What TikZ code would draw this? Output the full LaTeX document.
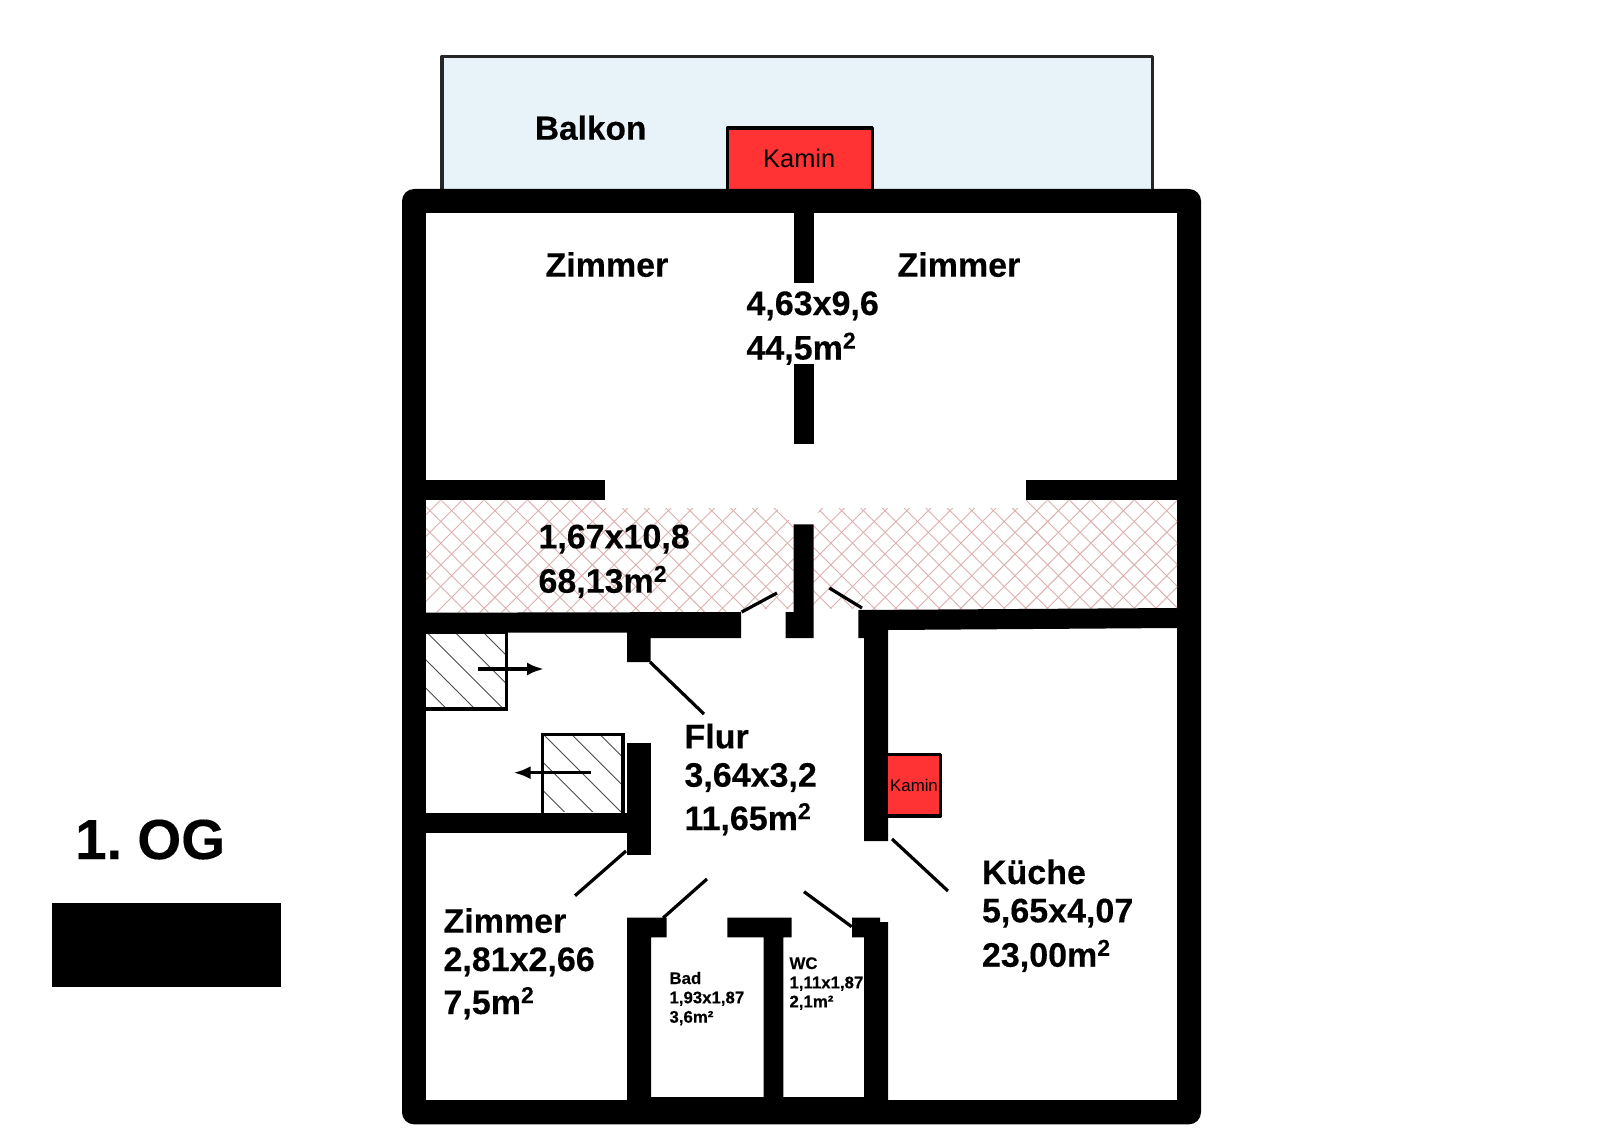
\documentclass[tikz,border=0pt]{standalone}
\usepackage{fontspec}
\setmainfont{Liberation Sans}[BoldFeatures={FakeBold=0.25}]
\usetikzlibrary{arrows.meta}
\definecolor{balk}{HTML}{E8F3F9}
\definecolor{kam}{HTML}{FF3333}
\definecolor{hatchred}{HTML}{DDB0B0}
\newcommand{\msq}{\raisebox{0.32em}{\fontsize{23}{23}\selectfont 2}}
\tikzset{
  wall/.style={fill=black,draw=none},
  doorline/.style={draw=black,line width=3.2pt},
  closet/.style={draw=black,line width=3.4pt},
  kamin/.style={fill=kam,draw=black,line width=3.4pt,line join=round},
  boxhatch/.style={draw=black!70,line width=0.9pt},
  roomhatch/.style={draw=hatchred,line width=0.9pt},
  movearrow/.style={draw=black,line width=3.4pt,-{Latex[length=17pt,width=13pt]}},
  big/.style={anchor=base west,inner sep=0pt,outer sep=0pt,font=\fontsize{34}{40}\selectfont\bfseries},
  small/.style={anchor=base west,inner sep=0pt,outer sep=0pt,font=\fontsize{16.8}{20}\selectfont\bfseries},
}
\begin{document}
\begin{tikzpicture}[x=1pt,y=-1pt]
\useasboundingbox (0,0) rectangle (1604,1142);
\fill[white] (0,0) rectangle (1604,1142);
% balcony
\draw[fill=balk,draw=black!85,line width=3.2pt,line join=round] (442,195) -- (442,56.5) -- (1152.7,56.5) -- (1152.7,195);
\draw[kamin] (727.2,195) -- (727.2,128) -- (872.3,128) -- (872.3,195);
% outer frame
\fill[black,rounded corners=12pt] (402,189) rectangle (1201,1124.3);
\fill[white] (426,212.7) rectangle (1177,1100.3);
% red hatch
\begin{scope}
\clip (426,500.3) -- (604,500.3) -- (604,508) -- (776,508) -- (793.5,524) -- (793.5,609) -- (741,609) -- (741,612.7) -- (426,612.7) -- cycle
      (821,508) -- (1026,508) -- (1026,500.3) -- (1177,500.3) -- (1177,608.5) -- (858,610) -- (858,608.5) -- (813.7,608.5) -- (813.7,520) -- cycle;
\foreach \k in {-22,...,22}{
  \pgfmathsetmacro{\cc}{1352.4+\k*21.67}
  \pgfmathsetmacro{\dd}{331+\k*21.67}
  \draw[roomhatch] ({\cc-490},490) -- ({\cc-620},620);
  \draw[roomhatch] ({\dd+490},490) -- ({\dd+620},620);
}
\end{scope}
% upper walls
\fill[wall] (793.5,212) rectangle (813.7,282.7);
\fill[wall] (793.5,364) rectangle (813.7,443.8);
\fill[wall] (426,480) rectangle (604.5,500.3);
\fill[wall] (1026,480) rectangle (1177,500.3);
\fill[wall] (793.7,524.3) -- (813.7,524.3) -- (813.7,638) -- (785.7,638) -- (785.7,612) -- (793.7,612) -- cycle;
% corridor walls
\fill[wall] (426,612.7) -- (741,612) -- (741,638) -- (650.5,638) -- (650.5,662) -- (627,662) -- (627,632.5) -- (426,632.5) -- cycle;
\fill[wall] (858.3,610) -- (1177,608) -- (1177,628) -- (888,630) -- (888,841) -- (864,841) -- (864,638) -- (858.3,638) -- cycle;
% closet walls
\fill[wall] (627,743) rectangle (651,855);
\fill[wall] (426,813.3) rectangle (627,833.3);
% lower walls
\fill[wall] (627,917.7) -- (666.7,917.7) -- (666.7,937.3) -- (651,937.3) -- (651,1100.5) -- (627,1100.5) -- cycle;
\fill[wall] (727.3,917.7) -- (791.7,917.7) -- (791.7,937.3) -- (783.3,937.3) -- (783.3,1100.5) -- (763.7,1100.5) -- (763.7,937.3) -- (727.3,937.3) -- cycle;
\fill[wall] (852,917.7) -- (880,917.7) -- (880,922) -- (888,922) -- (888,1100.5) -- (864,1100.5) -- (864,937.3) -- (852,937.3) -- cycle;
\fill[wall] (651,1096.7) rectangle (864,1101);
% closets
\begin{scope}
\clip (426,632) rectangle (506.7,709);
\foreach \k in {-3,...,5}{
  \pgfmathsetmacro{\dd}{-177.3+\k*28.3}
  \draw[boxhatch] ({\dd+620},620) -- ({\dd+720},720);
}
\end{scope}
\draw[closet] (426,632) -- (506.7,632) -- (506.7,709) -- (426,709);
\begin{scope}
\clip (542.7,734) rectangle (623,811.7);
\foreach \k in {-3,...,5}{
  \pgfmathsetmacro{\dd}{-162.7+\k*28.3}
  \draw[boxhatch] ({\dd+720},720) -- ({\dd+820},820);
}
\end{scope}
\draw[closet] (542.7,813) -- (542.7,734.5) -- (623,734.5) -- (623,813);
\draw[movearrow] (478,669) -- (544,669);
\draw[movearrow] (591,772.7) -- (513.5,772.7);
% door leaves
\draw[doorline] (650,662) -- (704,714);
\draw[doorline] (741.7,612) -- (777,593);
\draw[doorline] (829.3,588) -- (862,608);
\draw[doorline] (626,851) -- (575,895.7);
\draw[doorline] (663,918) -- (707,879);
\draw[doorline] (851.7,926.7) -- (804,891.7);
\draw[doorline] (892,839) -- (948,891);
% small Kamin
\draw[kamin] (888,754.3) -- (940.5,754.3) -- (940.5,816) -- (888,816);
% legend
\fill[wall] (52.3,903.3) rectangle (280.7,986.7);
% texts
\node[anchor=base west,inner sep=0pt,font=\fontsize{56.5}{60}\selectfont\bfseries] (og) at (75,859) {1.\kern15pt OG};
\node[big,font=\fontsize{33.4}{40}\selectfont\bfseries] (balkon) at (535,139.7) {Balkon};
\node[anchor=base west,inner sep=0pt,font=\fontsize{25.4}{30}\selectfont] (kam1) at (763,168) {Kamin};
\node[anchor=base west,inner sep=0pt,font=\fontsize{16.8}{20}\selectfont] (kam2) at (890,791.7) {Kamin};
\node[big] (z1) at (545.5,276.7) {Zimmer};
\node[big] (z2) at (897.5,276.7) {Zimmer};
\node[big] (d1) at (746.5,315) {4,63x9,6};
\node[big] (a1) at (746.5,359.5) {44,5m\msq};
\node[big] (d2) at (538.5,548.3) {1,67x10,8};
\node[big] (a2) at (538.5,592.7) {68,13m\msq};
\node[big] (f0) at (684.5,748.3) {Flur};
\node[big] (f1) at (684.5,786.7) {3,64x3,2};
\node[big] (f2) at (684.5,830) {11,65m\msq};
\node[big] (z3) at (443.5,932.7) {Zimmer};
\node[big] (z4) at (443.5,971) {2,81x2,66};
\node[big] (z5) at (443.5,1014) {7,5m\msq};
\node[big] (k0) at (982,884) {Küche};
\node[big] (k1) at (982,922.3) {5,65x4,07};
\node[big] (k2) at (982,966.7) {23,00m\msq};
\node[small] (b0) at (669.5,984) {Bad};
\node[small] (b1) at (669.5,1003.3) {1,93x1,87};
\node[small] (b2) at (669.5,1022.7) {3,6m²};
\node[small] (w0) at (789.5,969) {WC};
\node[small] (w1) at (789.5,988.3) {1,11x1,87};
\node[small] (w2) at (789.5,1007.3) {2,1m²};
\end{tikzpicture}
\end{document}
